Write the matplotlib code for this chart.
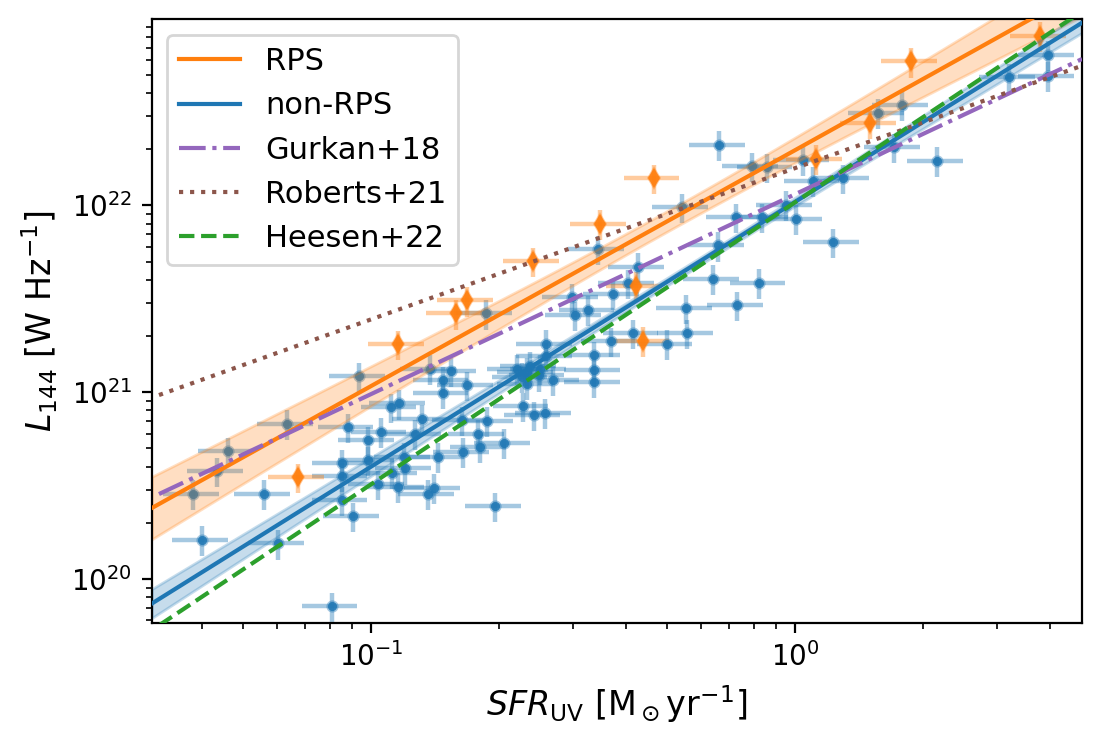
import numpy as np
import matplotlib
matplotlib.use("Agg")
import matplotlib.pyplot as plt

# ---------------- data ----------------
# non-RPS galaxies: SFR_UV [Msun/yr], L144 [W/Hz]
sfr_nonrps = [0.0381, 0.0461, 0.0433, 0.0399, 0.0560, 0.0633, 0.0603, 0.0808, 0.0908, 0.0853,
              0.0853, 0.0853, 0.0881, 0.0938, 0.0986, 0.0986, 0.1054, 0.1040, 0.1112, 0.1166,
              0.1160, 0.1196, 0.1202, 0.1119, 0.1317, 0.1270, 0.1364, 0.1409, 0.1442, 0.1377,
              0.1476, 0.1476, 0.1541, 0.1687, 0.1651, 0.1637, 0.1791, 0.1807, 0.1880, 0.1959,
              0.1871, 0.3434, 0.4266, 0.3726, 0.3027, 0.3257, 0.641, 0.824, 0.553, 0.731,
              0.414, 0.498, 0.557, 0.368, 0.336, 0.336, 0.336, 0.2588, 0.2588, 0.2208,
              0.2330, 0.2265, 0.2330, 0.2483, 0.2692, 0.2279, 0.2420, 0.2570, 0.2061, 0.2978,
              0.4036, 3.95, 3.95, 3.20, 1.57, 1.79, 0.662, 0.791, 0.857, 1.046,
              1.71, 2.16, 1.105, 1.296, 0.952, 1.006, 0.835, 0.726, 0.659, 1.227,
              0.541, 0.2371, 0.2506]
lum_nonrps = [2.87e20, 4.85e20, 3.79e20, 1.62e20, 2.87e20, 6.80e20, 1.55e20, 7.18e19, 2.17e20, 2.64e20,
              3.56e20, 4.16e20, 6.52e20, 1.22e21, 5.53e20, 4.33e20, 6.14e20, 3.22e20, 8.34e20, 8.71e20,
              3.12e20, 4.51e20, 3.91e20, 3.70e20, 7.22e20, 6.01e20, 2.87e20, 3.09e20, 4.51e20, 1.34e21,
              1.16e21, 9.91e20, 1.30e21, 1.09e21, 4.80e20, 7.08e20, 6.01e20, 5.09e20, 7.03e20, 2.46e20,
              2.64e21, 5.82e21, 4.70e21, 3.37e21, 2.58e21, 2.77e21, 4.06e21, 3.86e21, 2.82e21, 2.92e21,
              2.07e21, 1.82e21, 2.07e21, 1.88e21, 1.58e21, 1.31e21, 1.13e21, 1.82e21, 1.56e21, 1.34e21,
              1.29e21, 1.21e21, 1.11e21, 1.23e21, 1.17e21, 8.41e20, 7.53e20, 7.78e20, 5.38e20, 3.22e21,
              3.83e21, 6.40e22, 4.95e22, 4.86e22, 3.13e22, 3.47e22, 2.11e22, 1.62e22, 1.60e22, 1.76e22,
              2.05e22, 1.74e22, 1.36e22, 1.40e22, 1.01e22, 8.49e21, 8.65e21, 8.65e21, 6.11e21, 6.37e21,
              9.80e21, 1.39e21, 1.34e21]

# RPS galaxies
sfr_rps = [3.78, 1.88, 1.50, 1.12, 0.464, 0.347, 0.2415, 0.1687, 0.159, 0.116, 0.0674, 0.4217, 0.4385]
lum_rps = [8.1e22, 5.9e22, 2.77e22, 1.78e22, 1.40e22, 7.98e21, 5.04e21, 3.10e21, 2.64e21, 1.81e21,
           3.52e20, 3.72e21, 1.89e21]

# fractional uncertainties
SFR_ERR_FRAC = 0.15
LUM_ERR_FRAC = 0.18

# fitted relations: log L = a + b * log SFR, band from (sigma_a, sigma_b, pivot)
rps_fit = dict(a=22.296, b=1.263, sa=0.055, sb=0.13, pivot=-0.3)
nonrps_fit = dict(a=22.019, b=1.4175, sa=0.02, sb=0.057, pivot=-0.2)

# literature relations: (log normalisation, slope)
gurkan18 = (22.06, 1.07)
roberts21 = (22.20, 0.81)
heesen22 = (22.017, 1.51)

xlim = (0.0304, 4.75)
ylim = (5.84e19, 9.9e22)
lit_xmin = 10 ** -1.5

# ---------------- figure ----------------
fig = plt.figure(figsize=(5.505, 3.73), dpi=200)
ax = fig.add_axes([0.1378, 0.1653, 0.8450, 0.8086])
ax.set_xscale('log')
ax.set_yscale('log')

x_nr = np.array(sfr_nonrps); y_nr = np.array(lum_nonrps)
x_r = np.array(sfr_rps); y_r = np.array(lum_rps)

ax.errorbar(x_nr, y_nr, xerr=SFR_ERR_FRAC * x_nr, yerr=LUM_ERR_FRAC * y_nr, fmt='o', color='C0',
            ms=4.4, alpha=0.4, elinewidth=1.6, mew=0, capsize=0, zorder=1)
ax.plot(x_nr, y_nr, 'o', color='C0', ms=3.3, mew=0, alpha=0.85, zorder=1.1)

ax.errorbar(x_r, y_r, xerr=SFR_ERR_FRAC * x_r, yerr=LUM_ERR_FRAC * y_r, fmt='d', color='C1',
            ms=6.2, alpha=0.4, elinewidth=1.6, mew=0, capsize=0, zorder=1)
ax.plot(x_r, y_r, 'd', color='C1', ms=5.0, mew=0, alpha=0.9, zorder=1.1)

xx = np.logspace(np.log10(xlim[0]), np.log10(xlim[1]), 300)
lx = np.log10(xx)
for fit, col, lab in [(rps_fit, 'C1', 'RPS'), (nonrps_fit, 'C0', 'non-RPS')]:
    ly = fit['a'] + fit['b'] * lx
    sig = np.sqrt(fit['sa'] ** 2 + (fit['sb'] * (lx - fit['pivot'])) ** 2)
    ax.fill_between(xx, 10 ** (ly - sig), 10 ** (ly + sig), color=col, alpha=0.25, zorder=2)
    ax.plot(xx, 10 ** ly, color=col, lw=1.5, label=lab, zorder=3)

xl = np.logspace(np.log10(lit_xmin), np.log10(xlim[1]), 300)
for (a, b), col, ls, lab in [(gurkan18, 'C4', '-.', 'Gurkan+18'),
                             (roberts21, 'C5', ':', 'Roberts+21'),
                             (heesen22, 'C2', '--', 'Heesen+22')]:
    ax.plot(xl, 10 ** (a + b * np.log10(xl)), color=col, ls=ls, lw=1.5, label=lab, zorder=3)

ax.set_xlim(*xlim)
ax.set_ylim(*ylim)
ax.tick_params(labelsize=10)
ax.set_xlabel(r'$SFR_{\rm UV}$ [M$_\odot$yr$^{-1}$]', fontsize=12)
ax.set_ylabel(r'$L_{144}$ [W Hz$^{-1}$]', fontsize=12)
ax.legend(loc='upper left', fontsize=11)

fig.savefig('out.png', dpi=200)
